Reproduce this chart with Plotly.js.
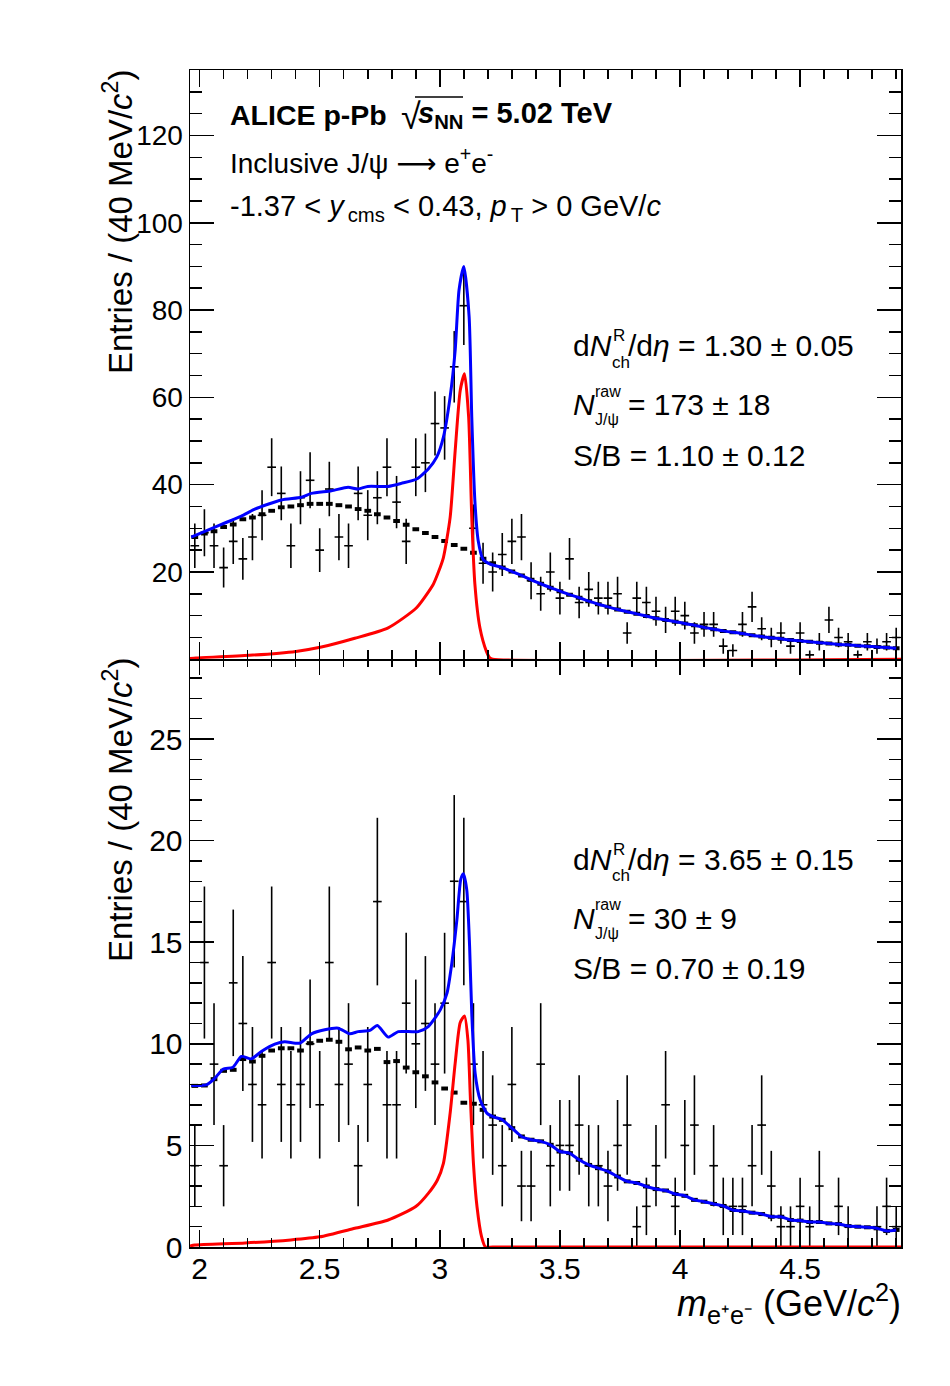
<!DOCTYPE html>
<html>
<head>
<meta charset="utf-8">
<script src="https://cdn.plot.ly/plotly-3.0.1.min.js"></script>
<style>
  body { margin: 0; background: #fff; }
  #plot { width: 950px; height: 1386px; }
</style>
</head>
<body>
<div id="plot"></div>
<script>
// 40 MeV/c2 bins between 1.96 and 4.92 GeV/c2 -> bin centres
var massBins = [];
for (var i = 0; i < 74; i++) massBins.push(+(1.98 + 0.04 * i).toFixed(2));

////////////////////////////////////////////////////////
// upper panel : dNch/deta = 1.30
////////////////////////////////////////////////////////
var countsLow = [26, 29, 26, 21, 27, 23, 28, 33, 44, 38, 26, 37, 41, 25, 39, 28, 26, 38, 33, 37,
                 44, 36, 27, 44, 45, 54, 53, 67, 81, 30, 22, 20, 24, 27, 28, 18, 15, 20, 14, 23,
                 13, 16, 14, 14, 15, 6, 14, 13, 11, 9, 11, 10, 6, 8, 8, 3, 2, 8, 12, 7,
                 5, 6, 3, 6, 1, 4, 9, 5, 4, 1, 4, 3, 4, 5];
var bkgLow = [28.0, 28.8, 29.3, 30.3, 30.9, 32.1, 32.5, 33.2, 34.0, 34.8, 35.0, 35.3, 35.6, 35.6, 35.6, 35.3, 35.0, 34.4, 34.0, 33.2,
              32.5, 31.7, 30.8, 29.8, 28.9, 28.0, 27.1, 26.2, 25.3, 24.4, 23.0, 22.0, 21.0, 20.1, 19.2, 18.2, 17.3, 16.4, 15.6, 14.8,
              14.1, 13.3, 12.6, 12.0, 11.4, 10.9, 10.4, 9.9, 9.4, 9.0, 8.6, 8.2, 7.8, 7.3, 6.9, 6.5, 6.2, 5.9, 5.5, 5.2,
              4.9, 4.7, 4.4, 4.2, 4.0, 3.8, 3.6, 3.4, 3.3, 3.1, 3.0, 2.8, 2.7, 2.5];
var signalLowX = [1.96, 1.985, 2.207, 2.401, 2.507, 2.646, 2.785, 2.903, 2.973, 2.993, 3.015, 3.043, 3.064, 3.085,
                  3.103, 3.12, 3.133, 3.146, 3.167, 3.194, 3.208, 3.22, 4.92];
var signalLowY = [0.2, 0.3, 0.9, 1.8, 2.8, 4.8, 7.2, 11.8, 17.2, 19.8, 23.3, 32.5, 47.8, 61.6,
                  65.4, 55.5, 32.5, 17.2, 7.2, 1.8, 0.3, 0, 0];
var totalLowX = [1.965, 2.091, 2.174, 2.23, 2.341, 2.424, 2.465, 2.549, 2.618, 2.66, 2.70, 2.785, 2.84, 2.903,
                 2.952, 2.987, 3.015, 3.043, 3.064, 3.08, 3.10, 3.122, 3.133, 3.146, 3.16, 3.18, 3.21];
var totalLowY = [28.0, 30.9, 32.8, 34.4, 36.5, 37.1, 38.0, 38.6, 39.4, 39.0, 39.6, 39.6, 40.3, 41.3,
                 43.6, 46.3, 50.9, 60.1, 70.8, 84.6, 90.0, 78.5, 55.5, 36.3, 27.1, 22.9, 21.8];

////////////////////////////////////////////////////////
// lower panel : dNch/deta = 3.65
////////////////////////////////////////////////////////
var countsHigh = [4, 14, 9, 4, 13, 11, 8, 7, 14, 8, 7, 8, 10, 7, 14, 8, 9, 4, 8, 17,
                  7, 7, 12, 10, 11, 9, 12, 18, 17, 9, 7, 6, 4, 8, 3, 3, 9, 4, 5, 5,
                  6, 4, 4, 3, 5, 6, 1, 2, 4, 7, 2, 5, 6, 0, 4, 2, 2, 2, 4, 6,
                  3, 1, 1, 2, 1, 3, 0, 2, 1, 0, 0, 1, 2, 1];
var bkgHigh = [7.93, 7.95, 8.26, 8.67, 8.72, 9.25, 9.13, 9.41, 9.67, 9.78, 9.78, 9.67, 10.03, 10.15, 10.2, 10.1, 9.73, 9.82, 9.67, 9.75,
               9.10, 9.15, 8.83, 8.6, 8.4, 8.1, 7.8, 7.6, 7.1, 7.05, 6.75, 6.42, 6.26, 5.85, 5.44, 5.28, 5.2, 5.03, 4.7, 4.62,
               4.29, 4.04, 3.88, 3.72, 3.47, 3.23, 3.15, 2.98, 2.85, 2.78, 2.61, 2.52, 2.32, 2.23, 2.12, 2.02, 1.82, 1.77, 1.69, 1.62,
               1.49, 1.49, 1.33, 1.30, 1.23, 1.23, 1.16, 1.13, 1.03, 1.00, 0.97, 0.92, 0.79, 0.84];
var signalHighX = [1.96, 1.98, 2.19, 2.38, 2.50, 2.646, 2.785, 2.90, 2.952, 2.99, 3.015, 3.043, 3.064, 3.085,
                   3.103, 3.117, 3.127, 3.14, 3.155, 3.174, 3.19, 3.22, 4.92];
var signalHighY = [0.05, 0.1, 0.2, 0.35, 0.5, 0.92, 1.33, 1.99, 2.64, 3.3, 4.12, 6.59, 9.05, 11.05,
                   11.37, 10.19, 7.4, 4.12, 1.97, 0.5, 0, 0, 0];
var totalHighX = [1.965, 2.028, 2.063, 2.097, 2.139, 2.174, 2.215, 2.257, 2.313, 2.354, 2.417, 2.466, 2.521, 2.577,
                  2.625, 2.66, 2.709, 2.74, 2.785, 2.827, 2.91, 2.952, 3.002, 3.03, 3.05, 3.071, 3.087, 3.098,
                  3.112, 3.124, 3.133, 3.147, 3.168, 3.196, 3.224];
var totalHighY = [7.95, 7.98, 8.3, 8.75, 8.85, 9.38, 9.26, 9.62, 9.98, 10.1, 10.03, 10.49, 10.69, 10.77,
                  10.49, 10.6, 10.66, 10.9, 10.33, 10.6, 10.6, 10.85, 11.67, 12.5, 13.97, 16.1, 18.08, 18.37,
                  17.6, 14.8, 11.5, 8.55, 7.24, 6.59, 6.4];

var FONT = 'Liberation Sans, Arial, Helvetica, sans-serif';

// total fit follows the background histogram above the peak
function tailOf(x, y, bkg) {
    var tx = x.slice(), ty = y.slice();
    massBins.forEach(function (m, i) {
        if (m > 3.23) { tx.push(m); ty.push(bkg[i]); }
    });
    return {x: tx, y: ty};
}

function panelTraces(counts, bkg, sx, sy, tx, ty, xa, ya) {
    var total = tailOf(tx, ty, bkg);
    return [
        {   // data points
            x: massBins, y: counts, xaxis: xa, yaxis: ya,
            type: 'scatter', mode: 'markers',
            marker: {size: 2, color: 'black'},
            error_y: {type: 'data', array: counts.map(Math.sqrt), width: 0, thickness: 1.6, color: 'black'},
            error_x: {type: 'constant', value: 0.018, width: 0, thickness: 1.6, color: 'black'},
            hoverinfo: 'skip'
        },
        {   // mixed-event background
            x: massBins, y: bkg, xaxis: xa, yaxis: ya,
            type: 'scatter', mode: 'markers',
            marker: {size: 1, opacity: 0},
            error_x: {type: 'constant', value: 0.014, width: 0, thickness: 4, color: 'black'},
            hoverinfo: 'skip'
        },
        {   // signal shape
            x: sx, y: sy, xaxis: xa, yaxis: ya,
            type: 'scatter', mode: 'lines',
            line: {color: '#ff0000', width: 3, shape: 'spline', smoothing: 0.6},
            hoverinfo: 'skip'
        },
        {   // signal + background
            x: total.x, y: total.y, xaxis: xa, yaxis: ya,
            type: 'scatter', mode: 'lines',
            line: {color: '#0000ff', width: 3, shape: 'spline', smoothing: 0.6},
            hoverinfo: 'skip'
        }
    ];
}

var data = panelTraces(countsLow, bkgLow, signalLowX, signalLowY, totalLowX, totalLowY, 'x2', 'y2')
    .concat(panelTraces(countsHigh, bkgHigh, signalHighX, signalHighY, totalHighX, totalHighY, 'x', 'y'));

// pixel -> paper helpers (plot area 190..901 x 70..1247)
function px(x) { return (x - 190) / 711; }
function py(y) { return (1247 - y) / 1177; }

function label(text, x, y, size, extra) {
    var a = {
        text: text, x: px(x), y: py(y), xref: 'paper', yref: 'paper',
        xanchor: 'left', yanchor: 'middle', showarrow: false,
        borderpad: 0, borderwidth: 0,
        font: {family: FONT, size: size, color: 'black'}
    };
    for (var k in extra) a[k] = extra[k];
    return a;
}

var annotations = [
    label('<b>ALICE p-Pb</b>', 230, 115, 28.5),
    label('√', 401, 117, 36),
    label('<b><i>s</i><sub>NN</sub> = 5.02 TeV</b>', 418, 115, 29),
    label('Inclusive J/ψ <span style="font-family:DejaVu Sans">⟶</span> e<sup>+</sup>e<sup>-</sup>', 230, 161, 28),
    label('-1.37 &lt; <i>y</i><sub>\u2009cms</sub> &lt; 0.43, <i>p</i><sub>\u2009T</sub> &gt; 0 GeV/<i>c</i>', 230, 208, 29)
];

var results = [
    {dn: '1.30 ± 0.05', n: '173 ± 18', sb: '1.10 ± 0.12', dy: 0},
    {dn: '3.65 ± 0.15', n: '30 ± 9',   sb: '0.70 ± 0.19', dy: 513}
];
results.forEach(function (r) {
    annotations.push(
        label('d<i>N</i>', 573, 346 + r.dy, 30),
        label('R', 613, 336 + r.dy, 17),
        label('ch', 612, 362 + r.dy, 17),
        label('/d<i>η</i> = ' + r.dn, 628, 346 + r.dy, 30),
        label('<i>N</i>', 573, 405 + r.dy, 30),
        label('raw', 595, 391 + r.dy, 16),
        label('J/ψ', 595, 420 + r.dy, 16),
        label('= ' + r.n, 628, 405 + r.dy, 30),
        label('S/B = ' + r.sb, 573, 455 + r.dy, 30)
    );
});

// axis titles (ROOT style, right aligned at the end of the axis)
[70, 658].forEach(function (top) {
    annotations.push(label('Entries / (40 MeV/<i>c</i><sup>2</sup>)', 118, top, 33,
        {textangle: -90, xanchor: 'center', yanchor: 'top'}));
});
annotations.push(label('<i>m</i><sub>e⁺e⁻</sub> (GeV/<i>c</i><sup>2</sup>)', 901, 1303, 36,
    {xanchor: 'right'}));

// overline of the square root
var shapes = [{
    type: 'line', xref: 'paper', yref: 'paper',
    x0: px(415), x1: px(463), y0: py(97), y1: py(97),
    line: {color: 'black', width: 1.5}
}];

var LW = 1.5;
var xBase = {
    range: [1.96, 4.92], showline: true, linecolor: 'black', linewidth: LW, mirror: 'ticks',
    ticks: 'inside', ticklen: 17, tickwidth: LW, tickcolor: 'black',
    tickmode: 'array', tickvals: [2, 2.5, 3, 3.5, 4, 4.5],
    minor: {tickmode: 'linear', tick0: 2, dtick: 0.1, ticks: 'inside', ticklen: 9, tickwidth: LW, tickcolor: 'black'},
    showgrid: false, zeroline: false,
    ticklabelstandoff: -6,
    tickfont: {family: FONT, size: 30, color: 'black'}
};
function copy(o, extra) {
    var c = JSON.parse(JSON.stringify(o));
    for (var k in extra) c[k] = extra[k];
    return c;
}

var yBase = {
    showline: true, linecolor: 'black', linewidth: LW, mirror: 'ticks',
    ticks: 'inside', ticklen: 24, tickwidth: LW, tickcolor: 'black',
    showgrid: false, zeroline: false
};

// the two axis lines between the panels are offset outwards by half a line width;
// let the domains overlap so that they fall on top of each other
var split = 0.5;
var overlap = LW / 1177;

var layout = {
    width: 950, height: 1386,
    margin: {l: 190, r: 49, t: 70, b: 139},
    paper_bgcolor: 'white', plot_bgcolor: 'white',
    showlegend: false,
    xaxis: copy(xBase, {anchor: 'y'}),
    xaxis2: copy(xBase, {anchor: 'y2', matches: 'x', showticklabels: false}),
    yaxis: copy(yBase, {
        domain: [0, split + overlap / 2], range: [0, 29],
        tickmode: 'array', tickvals: [0, 5, 10, 15, 20, 25],
        tickfont: {family: FONT, size: 30, color: 'black'},
        minor: {tickmode: 'linear', tick0: 0, dtick: 1, ticks: 'inside', ticklen: 12, tickwidth: LW, tickcolor: 'black'}
    }),
    yaxis2: copy(yBase, {
        domain: [split - overlap / 2, 1], range: [0, 135],
        tickmode: 'array', tickvals: [20, 40, 60, 80, 100, 120],
        tickfont: {family: FONT, size: 28, color: 'black'},
        minor: {tickmode: 'linear', tick0: 0, dtick: 5, ticks: 'inside', ticklen: 12, tickwidth: LW, tickcolor: 'black'}
    }),
    annotations: annotations,
    shapes: shapes
};

Plotly.newPlot('plot', data, layout, {staticPlot: true});
</script>
</body>
</html>
